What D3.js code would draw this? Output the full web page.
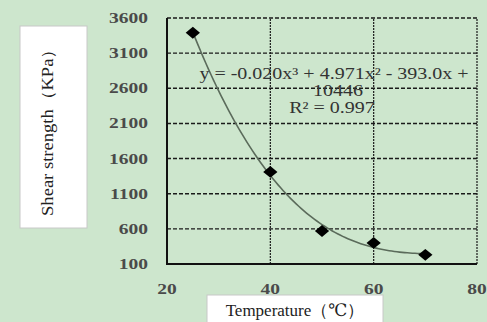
<!DOCTYPE html>
<html>
<head>
<meta charset="utf-8">
<script src="https://cdn.jsdelivr.net/npm/d3@7"></script>
<style>
  body { margin: 0; background: #cde6cd; }
  text { font-family: "Liberation Serif", "DejaVu Serif", serif; }
</style>
</head>
<body>
<svg id="chart"></svg>
<script>
// Data
var temperature = [25, 40, 50, 60, 70];
var strength = [3390, 1410, 570, 400, 230];
var xTicks = [20, 40, 60, 80];
var yTicks = [100, 600, 1100, 1600, 2100, 2600, 3100, 3600];
var equationLines = ["y = -0.020x\u00b3 + 4.971x\u00b2 - 393.0x +", "10446", "R\u00b2 = 0.997"];

var W = 487, H = 322;
var margin = { top: 18, right: 10, bottom: 58, left: 167 };

var svg = d3.select("#chart")
  .attr("width", W)
  .attr("height", H);

svg.append("rect")
  .attr("width", W).attr("height", H)
  .attr("fill", "#cde6cd");

var x = d3.scaleLinear().domain([20, 80]).range([margin.left, W - margin.right]);
var y = d3.scaleLinear().domain([100, 3600]).range([H - margin.bottom, margin.top]);

// horizontal dashed grid
svg.selectAll(".hgrid")
  .data(yTicks.slice(1))
  .enter().append("line")
  .attr("x1", x(20)).attr("x2", x(80))
  .attr("y1", function(d) { return y(d); })
  .attr("y2", function(d) { return y(d); })
  .attr("stroke", "#1a1a1a")
  .attr("stroke-width", 1.4)
  .attr("stroke-dasharray", "4,2");

// vertical dotted grid
svg.selectAll(".vgrid")
  .data(xTicks.slice(1))
  .enter().append("line")
  .attr("y1", y(100)).attr("y2", y(3600))
  .attr("x1", function(d) { return x(d); })
  .attr("x2", function(d) { return x(d); })
  .attr("stroke", "#1a1a1a")
  .attr("stroke-width", 1.2)
  .attr("stroke-dasharray", "2,1");

// axes (solid left and bottom)
svg.append("path")
  .attr("d", "M" + x(20) + "," + y(3600) + "V" + y(100) + "H" + x(80))
  .attr("fill", "none")
  .attr("stroke", "#111")
  .attr("stroke-width", 2);

// tick labels, the source image is stretched horizontally
var stretch = 1.3;
svg.selectAll(".ylab")
  .data(yTicks)
  .enter().append("text")
  .attr("transform", function(d) { return "translate(148," + (y(d) + 5) + ") scale(" + stretch + ",1)"; })
  .attr("text-anchor", "end")
  .attr("font-size", 15)
  .attr("font-weight", "bold")
  .attr("fill", "#4a4a4a")
  .text(function(d) { return d; });

svg.selectAll(".xlab")
  .data(xTicks)
  .enter().append("text")
  .attr("transform", function(d) { return "translate(" + x(d) + ",294) scale(" + stretch + ",1)"; })
  .attr("text-anchor", "middle")
  .attr("font-size", 15)
  .attr("font-weight", "bold")
  .attr("fill", "#4a4a4a")
  .text(function(d) { return d; });

// cubic least squares trendline
function polyfit(xs, ys, deg) {
  var n = deg + 1, A = [], b = [];
  for (var i = 0; i < n; i++) {
    A.push([]);
    for (var j = 0; j < n; j++) A[i].push(d3.sum(xs, function(v) { return Math.pow(v, i + j); }));
    b.push(d3.sum(xs, function(v, k) { return ys[k] * Math.pow(v, i); }));
  }
  for (var c = 0; c < n; c++) {
    for (var r = c + 1; r < n; r++) {
      var f = A[r][c] / A[c][c];
      for (var k = c; k < n; k++) A[r][k] -= f * A[c][k];
      b[r] -= f * b[c];
    }
  }
  var coef = new Array(n);
  for (var r2 = n - 1; r2 >= 0; r2--) {
    var s = b[r2];
    for (var k2 = r2 + 1; k2 < n; k2++) s -= A[r2][k2] * coef[k2];
    coef[r2] = s / A[r2][r2];
  }
  return coef;
}
var coef = polyfit(temperature, strength, 3);
var fitX = d3.range(temperature[0], temperature[temperature.length - 1] + 0.01, 0.5);
var fitPts = fitX.map(function(t) {
  return [t, coef[0] + coef[1] * t + coef[2] * t * t + coef[3] * t * t * t];
});

svg.append("path")
  .datum(fitPts)
  .attr("d", d3.line()
    .x(function(d) { return x(d[0]); })
    .y(function(d) { return y(d[1]); }))
  .attr("fill", "none")
  .attr("stroke", "#5b6b5b")
  .attr("stroke-width", 1.6);

// diamond markers
svg.selectAll(".pt")
  .data(temperature)
  .enter().append("path")
  .attr("d", d3.symbol().type(d3.symbolDiamond2).size(90))
  .attr("transform", function(d, i) { return "translate(" + x(d) + "," + y(strength[i]) + ") scale(1.2,1)"; })
  .attr("fill", "#000");

// trendline equation
svg.selectAll(".eq")
  .data(equationLines)
  .enter().append("text")
  .attr("transform", function(d, i) { return "translate(" + [334, 338, 332][i] + "," + (79 + i * 17) + ") scale(1.25,1)"; })
  .attr("text-anchor", "middle")
  .attr("font-size", 16)
  .attr("fill", "#333")
  .text(function(d) { return d; });

// y axis title box
svg.append("rect")
  .attr("x", 20).attr("y", 26)
  .attr("width", 67).attr("height", 202)
  .attr("fill", "#fff")
  .attr("stroke", "#c8c8c8");
svg.append("text")
  .attr("transform", "translate(53,128) rotate(-90)")
  .attr("text-anchor", "middle")
  .attr("font-size", 16)
  .attr("textLength", 176)
  .attr("lengthAdjust", "spacingAndGlyphs")
  .attr("fill", "#222")
  .text("Shear strength\uff08KPa\uff09");

// x axis title box
svg.append("rect")
  .attr("x", 207).attr("y", 295)
  .attr("width", 176).attr("height", 40)
  .attr("fill", "#fff")
  .attr("stroke", "#c8c8c8");
svg.append("text")
  .attr("x", 295).attr("y", 316)
  .attr("text-anchor", "middle")
  .attr("font-size", 17)
  .attr("fill", "#222")
  .text("Temperature\uff08\u2103\uff09");
</script>
</body>
</html>
